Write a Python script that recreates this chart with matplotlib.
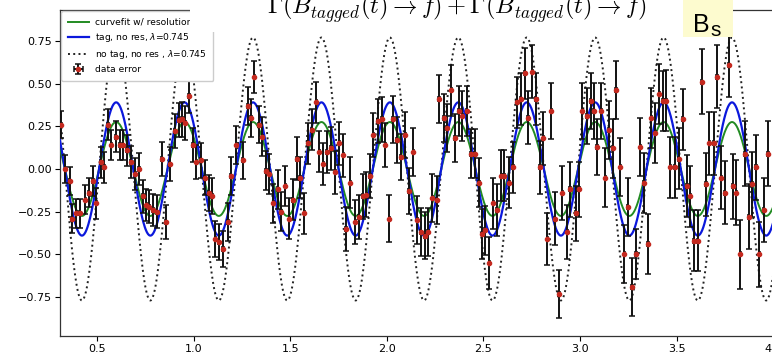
import matplotlib
matplotlib.use("Agg")
import matplotlib.pyplot as plt
from matplotlib.patches import Rectangle
import numpy as np

plt.rcParams["font.family"] = ["DejaVu Sans"]
plt.rcParams["mathtext.fontset"] = "dejavusans"

# ---- measured asymmetry per time bin (t in ps) ----
t_data = [
    0.315, 0.336, 0.358, 0.370, 0.393, 0.410, 0.439, 0.457, 0.479, 0.496,
    0.519, 0.536, 0.557, 0.574, 0.596, 0.617, 0.634, 0.655, 0.674, 0.698,
    0.717, 0.738, 0.755, 0.769, 0.790, 0.810, 0.836, 0.855, 0.876, 0.902,
    0.923, 0.940, 0.958, 0.976, 0.997, 1.014, 1.036, 1.057, 1.078, 1.095,
    1.112, 1.130, 1.152, 1.178, 1.192, 1.220, 1.254, 1.280, 1.297, 1.314,
    1.337, 1.356, 1.375, 1.392, 1.413, 1.435, 1.452, 1.475, 1.495, 1.513,
    1.535, 1.551, 1.573, 1.590, 1.612, 1.634, 1.651, 1.672, 1.689, 1.711,
    1.734, 1.754, 1.775, 1.789, 1.811, 1.837, 1.854, 1.875, 1.893, 1.913,
    1.930, 1.953, 1.975, 1.992, 2.013, 2.030, 2.051, 2.073, 2.096, 2.113,
    2.138, 2.158, 2.175, 2.196, 2.213, 2.236, 2.258, 2.270, 2.296, 2.310,
    2.334, 2.351, 2.374, 2.391, 2.413, 2.434, 2.456, 2.477, 2.495, 2.507,
    2.530, 2.552, 2.569, 2.593, 2.607, 2.633, 2.653, 2.672, 2.693, 2.714,
    2.731, 2.753, 2.771, 2.791, 2.810, 2.831, 2.852, 2.869, 2.891, 2.909,
    2.934, 2.948, 2.978, 2.995, 3.012, 3.035, 3.055, 3.071, 3.088, 3.110,
    3.131, 3.148, 3.169, 3.186, 3.209, 3.229, 3.248, 3.269, 3.290, 3.312,
    3.330, 3.352, 3.369, 3.390, 3.410, 3.430, 3.445, 3.467, 3.490, 3.510,
    3.531, 3.554, 3.571, 3.588, 3.610, 3.631, 3.652, 3.669, 3.692, 3.709,
    3.731, 3.749, 3.769, 3.790, 3.809, 3.830, 3.852, 3.873, 3.890, 3.911,
    3.928, 3.951, 3.973,
]
asym_data = [
    0.26, 0.00, -0.07, -0.29, -0.26, -0.26, -0.18, -0.14, -0.07, -0.20,
    0.04, 0.01, 0.26, 0.14, 0.19, 0.14, 0.14, 0.11, 0.04, -0.03,
    0.00, -0.16, -0.21, -0.22, -0.24, -0.25, 0.06, -0.31, 0.03, 0.22,
    0.285, 0.29, 0.27, 0.43, 0.14, 0.04, 0.05, -0.05, -0.14, -0.16,
    -0.41, -0.43, -0.47, -0.31, -0.04, 0.14, 0.05, 0.37, 0.30, 0.54,
    0.26, 0.19, -0.01, -0.03, -0.20, -0.12, -0.25, -0.10, -0.29, -0.18,
    0.06, -0.05, -0.26, 0.15, 0.23, 0.39, 0.10, 0.03, 0.10, 0.12,
    -0.02, 0.15, 0.08, -0.35, -0.08, -0.31, -0.28, -0.16, -0.15, -0.04,
    0.20, 0.28, 0.29, 0.14, -0.29, 0.29, 0.17, 0.07, 0.20, -0.13,
    0.10, -0.30, -0.37, -0.39, -0.37, -0.17, -0.18, 0.41, 0.30, 0.24,
    0.46, 0.18, 0.34, 0.31, 0.34, 0.09, 0.09, -0.08, -0.38, -0.36,
    -0.55, -0.20, -0.24, -0.04, -0.04, -0.08, 0.01, 0.39, 0.41, 0.56,
    0.30, 0.57, 0.41, 0.01, 0.18, -0.41, 0.34, -0.29, -0.73, -0.14,
    -0.37, -0.12, -0.26, -0.12, 0.34, 0.31, 0.40, 0.34, 0.13, 0.34,
    -0.05, 0.23, 0.12, 0.46, 0.01, -0.50, -0.22, -0.69, -0.50, 0.13,
    -0.08, -0.44, 0.30, 0.21, 0.44, 0.40, 0.40, 0.01, 0.01, 0.06,
    0.29, -0.10, -0.16, -0.42, -0.42, 0.51, -0.09, 0.15, 0.15, 0.54,
    -0.05, -0.14, 0.61, -0.10, -0.14, -0.50, 0.09, -0.28, -0.09, 0.01,
    -0.50, -0.24, 0.09,
]
asym_err = [
    0.08, 0.08, 0.08, 0.085, 0.085, 0.085, 0.085, 0.085, 0.09, 0.09,
    0.09, 0.09, 0.09, 0.09, 0.09, 0.09, 0.09, 0.09, 0.095, 0.095,
    0.095, 0.095, 0.095, 0.095, 0.095, 0.095, 0.10, 0.10, 0.10, 0.10,
    0.10, 0.10, 0.10, 0.10, 0.10, 0.10, 0.105, 0.105, 0.105, 0.105,
    0.105, 0.105, 0.105, 0.11, 0.11, 0.11, 0.11, 0.11, 0.11, 0.095,
    0.11, 0.115, 0.115, 0.115, 0.115, 0.115, 0.115, 0.115, 0.12, 0.12,
    0.125, 0.12, 0.12, 0.12, 0.12, 0.12, 0.12, 0.125, 0.125, 0.125,
    0.125, 0.125, 0.125, 0.13, 0.15, 0.13, 0.13, 0.13, 0.13, 0.13,
    0.13, 0.13, 0.13, 0.13, 0.137, 0.135, 0.135, 0.135, 0.135, 0.135,
    0.14, 0.14, 0.14, 0.14, 0.14, 0.14, 0.14, 0.14, 0.14, 0.14,
    0.15, 0.14, 0.145, 0.145, 0.145, 0.145, 0.145, 0.145, 0.145, 0.145,
    0.15, 0.15, 0.15, 0.15, 0.15, 0.15, 0.15, 0.15, 0.15, 0.15,
    0.155, 0.155, 0.155, 0.155, 0.155, 0.155, 0.166, 0.155, 0.14, 0.16,
    0.16, 0.16, 0.16, 0.16, 0.165, 0.165, 0.165, 0.165, 0.165, 0.165,
    0.17, 0.17, 0.17, 0.17, 0.17, 0.17, 0.17, 0.17, 0.146, 0.17,
    0.175, 0.175, 0.175, 0.175, 0.175, 0.175, 0.18, 0.18, 0.18, 0.18,
    0.18, 0.18, 0.18, 0.18, 0.18, 0.19, 0.185, 0.185, 0.185, 0.185,
    0.185, 0.185, 0.19, 0.19, 0.19, 0.20, 0.19, 0.19, 0.19, 0.19,
    0.19, 0.19, 0.19,
]
bin_half_width = 0.003

# ---- oscillation model parameters ----
delta_m = 17.74          # ps^-1
t_peak = 0.245           # time of a maximum, ps
amp_resolution = 0.275   # curvefit w/ resolution
amp_tagged = 0.39        # tag, no res
amp_untagged = 0.77      # no tag, no res

x_ticks = [0.5, 1.0, 1.5, 2.0, 2.5, 3.0, 3.5, 4.0]
y_ticks = [-0.75, -0.50, -0.25, 0.00, 0.25, 0.50, 0.75]

W, H = 772, 353
fig = plt.figure(figsize=(W / 100, H / 100), dpi=100)

x_min, x_max = 0.3085, 4.12
y_min, y_max = -0.978, 0.931
px_per_unit_x = 193.2
left_px, top_px, bottom_px = 60, 10, 336
ax = fig.add_axes([left_px / W, (H - bottom_px) / H,
                   (x_max - x_min) * px_per_unit_x / W,
                   (bottom_px - top_px) / H])

t_fine = np.linspace(0.25, 4.2, 1500)
phase = np.cos(delta_m * (t_fine - t_peak))
ax.plot(t_fine, amp_resolution * phase, color="#228b22", lw=1.4,
        label="curvefit w/ resolution", zorder=3)
ax.plot(t_fine, amp_tagged * phase, color="#0b18dc", lw=1.6,
        label=r"tag, no res, $\lambda$=0.745", zorder=3)
ax.plot(t_fine, amp_untagged * phase, color="#222222", lw=1.4, ls=(0, (1, 1.7)),
        label=r"no tag, no res , $\lambda$=0.745", zorder=2)
ax.errorbar(t_data, asym_data, yerr=asym_err, xerr=bin_half_width,
            fmt="o", color="#c4291f", ms=3.0, mec="#c4291f",
            ecolor="#111111", elinewidth=1.4, capsize=1.9, capthick=1.1,
            label="data error", zorder=4)

ax.set_xlim(x_min, x_max)
ax.set_ylim(y_min, y_max)
ax.set_xticks(x_ticks)
ax.set_yticks(y_ticks)
ax.set_xticklabels([f"{v:.1f}" for v in x_ticks])
ax.set_yticklabels([f"{v:.2f}".replace("-", "\u2212") for v in y_ticks])
ax.tick_params(labelsize=8, length=3.5, width=0.8, pad=2.5)
for s in ax.spines.values():
    s.set_linewidth(0.9)
    s.set_color("#333333")

leg = ax.legend(loc="upper left", fontsize=6.6, handlelength=2.3,
                handletextpad=0.7, borderaxespad=0.15, borderpad=0.7,
                labelspacing=0.45, framealpha=1.0, edgecolor="#cccccc")
leg.set_zorder(6)

# white banner holding the formula above the plot
fig.add_artist(Rectangle((190 / W, (H - 32) / H), (683 - 190) / W, 32 / H,
                         transform=fig.transFigure, facecolor="white",
                         edgecolor="none", zorder=10))
fig.text(267 / W, (H - 15) / H,
         r"$\Gamma(B_{tagged}(t)\rightarrow f)+\Gamma(\bar{B}_{tagged}(t)\rightarrow f)$",
         fontsize=17.6, math_fontfamily="cm", va="baseline", ha="left", zorder=11)

# yellow label box
fig.add_artist(Rectangle((683 / W, (H - 37) / H), 50 / W, 37 / H,
                         transform=fig.transFigure, facecolor="#fdfbcf",
                         edgecolor="none", zorder=10))
fig.text(693 / W, (H - 32) / H, "B", fontsize=18, family="Liberation Sans",
         va="baseline", ha="left", zorder=11)
fig.text(710 / W, (H - 36) / H, "s", fontsize=15, family="Liberation Sans",
         va="baseline", ha="left", zorder=11)

fig.savefig("out.png", dpi=100)
